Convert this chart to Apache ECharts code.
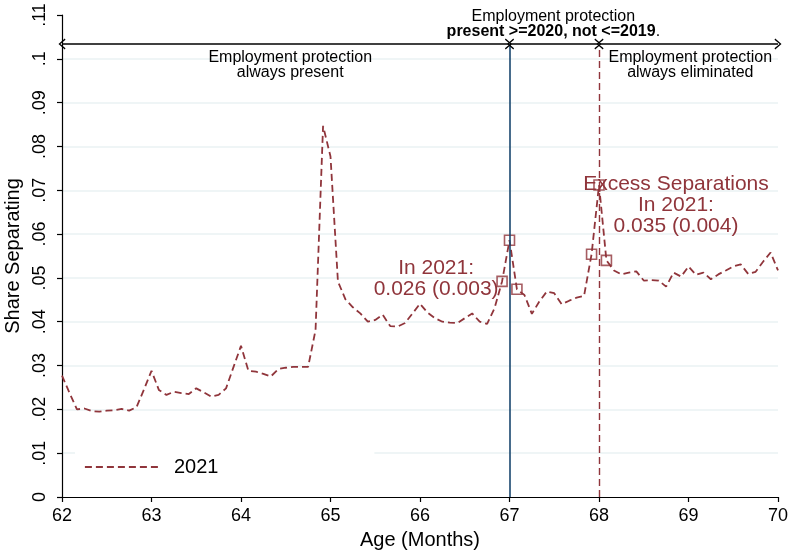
<!DOCTYPE html>
<html>
<head>
<meta charset="utf-8">
<title>Share Separating by Age</title>
<script src="https://cdn.jsdelivr.net/npm/echarts@6/dist/echarts.min.js"></script>
<style>
  html, body { margin: 0; padding: 0; background: #ffffff; }
  #chart { width: 789px; height: 553px; }
</style>
</head>
<body>
<div id="chart"></div>
<script>
// Age in years, one point per month of age
const ageYears = [
  62, 62.083, 62.167, 62.25, 62.333, 62.417, 62.5, 62.583, 62.667, 62.75, 62.833, 62.917,
  63, 63.083, 63.167, 63.25, 63.333, 63.417, 63.5, 63.583, 63.667, 63.75, 63.833, 63.917,
  64, 64.083, 64.167, 64.25, 64.333, 64.417, 64.5, 64.583, 64.667, 64.75, 64.833, 64.917,
  65, 65.083, 65.167, 65.25, 65.333, 65.417, 65.5, 65.583, 65.667, 65.75, 65.833, 65.917,
  66, 66.083, 66.167, 66.25, 66.333, 66.417, 66.5, 66.583, 66.667, 66.75, 66.833, 66.917,
  67, 67.083, 67.167, 67.25, 67.333, 67.417, 67.5, 67.583, 67.667, 67.75, 67.833, 67.917,
  68, 68.083, 68.167, 68.25, 68.333, 68.417, 68.5, 68.583, 68.667, 68.75, 68.833, 68.917,
  69, 69.083, 69.167, 69.25, 69.333, 69.417, 69.5, 69.583, 69.667, 69.75, 69.833, 69.917,
  70
];

// Share of workers separating, 2021
const share2021 = [
  0.0277, 0.0238, 0.0200, 0.0202, 0.0196, 0.0195, 0.0197, 0.0198, 0.0201, 0.0197, 0.0205, 0.0246,
  0.0288, 0.0244, 0.0233, 0.0240, 0.0237, 0.0235, 0.0248, 0.0239, 0.0229, 0.0233, 0.0248, 0.0297,
  0.0345, 0.0288, 0.0286, 0.0281, 0.0275, 0.0292, 0.0295, 0.0297, 0.0297, 0.0297, 0.0381, 0.0847,
  0.0777, 0.0492, 0.0451, 0.0433, 0.0419, 0.0400, 0.0404, 0.0416, 0.0390, 0.0389, 0.0397, 0.0419,
  0.0441, 0.0421, 0.0408, 0.0400, 0.0398, 0.0397, 0.0408, 0.0419, 0.0400, 0.0395, 0.0431, 0.0492,
  0.0586, 0.0474, 0.0461, 0.0418, 0.0446, 0.0469, 0.0465, 0.0440, 0.0448, 0.0455, 0.0459, 0.0554,
  0.0712, 0.0540, 0.0517, 0.0508, 0.0512, 0.0515, 0.0494, 0.0495, 0.0494, 0.0480, 0.0512, 0.0503,
  0.0526, 0.0507, 0.0512, 0.0497, 0.0508, 0.0517, 0.0526, 0.0531, 0.0509, 0.0514, 0.0537, 0.0558,
  0.0517
];

// Months around the thresholds that are highlighted with hollow squares
const markedIdx = [59, 60, 61, 71, 72, 73];

// Axis tick labels
const yTickLabels = ['0', '.01', '.02', '.03', '.04', '.05', '.06', '.07', '.08', '.09', '.1', '.11'];
const xTickLabels = ['62', '63', '64', '65', '66', '67', '68', '69', '70'];

// Threshold ages and the level of the regime arrows
const thresholds = [67, 68];
const arrowLevel = 0.1034;
const arrowGap = 0.012;

const CRANBERRY = '#90353b';
const NAVY = '#1a476f';
const GRID = '#eaf2f3';
const FONT = '"Liberation Sans", Arial, Helvetica, sans-serif';

const lineData = ageYears.map((a, i) => [a, share2021[i]]);
const markerData = markedIdx.map(i => [ageYears[i], share2021[i]]);

// open arrow head, tip pointing up before rotation
const chevron = 'path://M5 0 L10 8.6 L8.9 9.6 L5 2.6 L1.1 9.6 L0 8.6 Z';
const headSize = [11, 7];
const arrowStyle = { color: '#000', width: 1.5, type: 'solid' };

function arrowSpan(x0, x1) {
  return [
    { coord: [x0, arrowLevel], symbol: chevron, symbolSize: headSize, lineStyle: arrowStyle },
    { coord: [x1, arrowLevel], symbol: chevron, symbolSize: headSize }
  ];
}

const chart = echarts.init(document.getElementById('chart'), null, { renderer: 'canvas' });

chart.setOption({
  animation: false,
  backgroundColor: '#ffffff',
  textStyle: { fontFamily: FONT },
  grid: { left: 62, right: 11, top: 15, bottom: 56, outerBoundsMode: 'none', containLabel: false },
  legend: {
    data: ['2021'],
    left: 75,
    top: 445,
    orient: 'horizontal',
    backgroundColor: '#ffffff',
    padding: [12, 156, 12, 9],
    itemWidth: 77,
    itemHeight: 14,
    itemGap: 10,
    itemStyle: { opacity: 0, color: 'rgba(0,0,0,0)', borderWidth: 0 },
    lineStyle: { color: CRANBERRY, width: 1.8, type: [7, 4] },
    textStyle: { fontSize: 20, color: '#000', fontFamily: FONT, padding: [0, 0, 0, 7] }
  },
  xAxis: {
    type: 'value',
    min: 62,
    max: 70,
    interval: 1,
    name: 'Age (Months)',
    nameLocation: 'middle',
    nameGap: 33,
    nameTextStyle: { fontSize: 20, color: '#000', fontFamily: FONT },
    axisLine: { show: true, onZero: false, lineStyle: { color: '#000', width: 1.2 } },
    axisTick: { show: true, length: 5, lineStyle: { color: '#000', width: 1.2 } },
    axisLabel: {
      fontSize: 18, color: '#000', margin: 10, fontFamily: FONT,
      formatter: v => xTickLabels[Math.round(v - 62)]
    },
    splitLine: { show: false }
  },
  yAxis: {
    type: 'value',
    min: 0,
    max: 0.11,
    interval: 0.01,
    name: 'Share Separating',
    nameLocation: 'middle',
    nameGap: 37,
    nameRotate: 90,
    nameTextStyle: { fontSize: 20, color: '#000', fontFamily: FONT },
    axisLine: { show: true, lineStyle: { color: '#000', width: 1.2 } },
    axisTick: { show: true, length: 5, lineStyle: { color: '#000', width: 1.2 } },
    axisLabel: {
      rotate: 90, fontSize: 18, color: '#000', margin: 13, fontFamily: FONT,
      formatter: v => yTickLabels[Math.round(v * 100)]
    },
    splitLine: { show: true, showMinLine: false, showMaxLine: false, lineStyle: { color: GRID, width: 1.5 } }
  },
  series: [
    {
      name: '2021',
      type: 'line',
      data: lineData,
      symbol: 'none',
      z: 3,
      lineStyle: { color: CRANBERRY, width: 1.8, type: [7, 4] },
      itemStyle: { color: CRANBERRY }
    },
    {
      name: 'marked',
      type: 'scatter',
      data: markerData,
      symbol: 'rect',
      symbolSize: 10,
      z: 4,
      itemStyle: { color: 'rgba(255,255,255,0)', borderColor: CRANBERRY, borderWidth: 1.6 }
    },
    {
      name: 'annotations',
      type: 'line',
      data: [],
      z: 5,
      markLine: {
        silent: true,
        animation: false,
        label: { show: false },
        emphasis: { disabled: true },
        data: [
          [
            { coord: [thresholds[0], 0], symbol: 'none', lineStyle: { color: NAVY, width: 1.6, type: 'solid' } },
            { coord: [thresholds[0], arrowLevel], symbol: 'none' }
          ],
          [
            { coord: [thresholds[1], 0], symbol: 'none', lineStyle: { color: CRANBERRY, width: 1.4, type: [7, 4] } },
            { coord: [thresholds[1], arrowLevel - 0.0008], symbol: 'none' }
          ],
          arrowSpan(62, thresholds[0] - arrowGap),
          arrowSpan(thresholds[0] + arrowGap, thresholds[1] - arrowGap),
          arrowSpan(thresholds[1] + arrowGap, 70)
        ]
      },
      markPoint: {
        silent: true,
        animation: false,
        symbol: 'rect',
        symbolSize: 0,
        data: [
          {
            coord: [67.49, 0.1079],
            label: {
              show: true, position: 'inside', align: 'center', verticalAlign: 'middle',
              fontSize: 16, lineHeight: 15, color: '#000', fontFamily: FONT,
              formatter: 'Employment protection\n{b|present >=2020, not <=2019}.',
              rich: { b: { fontWeight: 'bold', fontSize: 16, lineHeight: 15, color: '#000', fontFamily: FONT } }
            }
          },
          {
            coord: [64.55, 0.0985],
            label: {
              show: true, position: 'inside', align: 'center', verticalAlign: 'middle',
              fontSize: 16, lineHeight: 15, color: '#000', fontFamily: FONT,
              formatter: 'Employment protection\nalways present'
            }
          },
          {
            coord: [69.02, 0.0985],
            label: {
              show: true, position: 'inside', align: 'center', verticalAlign: 'middle',
              fontSize: 16, lineHeight: 15, color: '#000', fontFamily: FONT,
              formatter: 'Employment protection\nalways eliminated'
            }
          },
          {
            coord: [66.18, 0.0499],
            label: {
              show: true, position: 'inside', align: 'center', verticalAlign: 'middle',
              fontSize: 21, lineHeight: 21, color: CRANBERRY, fontFamily: FONT,
              formatter: 'In 2021:\n0.026 (0.003)'
            }
          },
          {
            coord: [68.86, 0.0666],
            label: {
              show: true, position: 'inside', align: 'center', verticalAlign: 'middle',
              fontSize: 21, lineHeight: 21, color: CRANBERRY, fontFamily: FONT,
              formatter: 'Excess Separations\nIn 2021:\n0.035 (0.004)'
            }
          }
        ]
      }
    }
  ]
});
</script>
</body>
</html>
